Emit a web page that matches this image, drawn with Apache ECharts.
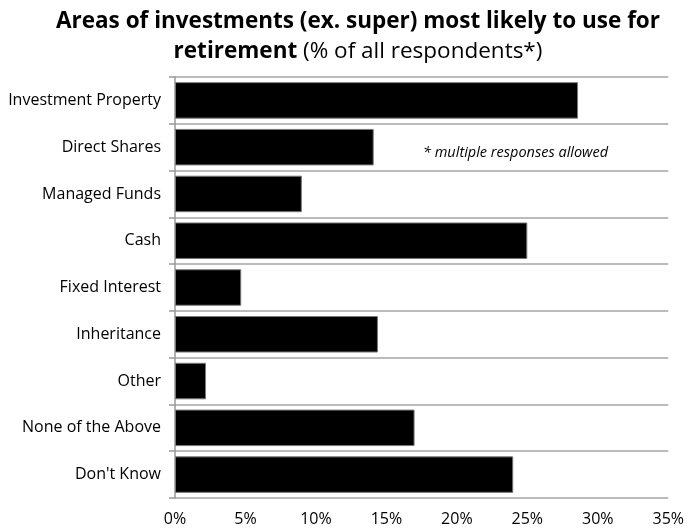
<!DOCTYPE html>
<html>
<head>
<meta charset="utf-8">
<style>
  html, body { margin: 0; padding: 0; background: #fff; }
  #chart { width: 687px; height: 528px; }
</style>
<script src="https://cdn.jsdelivr.net/npm/echarts@6/dist/echarts.min.js"></script>
</head>
<body>
<div id="chart"></div>
<script>
// Investment areas respondents expect to draw on in retirement (%)
const categories = [
  'Investment Property', 'Direct Shares', 'Managed Funds', 'Cash',
  'Fixed Interest', 'Inheritance', 'Other', 'None of the Above', "Don't Know"
];
const shares = [28.6, 14.1, 9.0, 25.0, 4.7, 14.4, 2.2, 17.0, 24.0];
const xTicks = { min: 0, max: 35, interval: 5 };

const FONT = '"Open Sans", "Noto Sans", sans-serif';
const chart = echarts.init(document.getElementById('chart'));

chart.setOption({
  animation: false,
  backgroundColor: '#fff',
  grid: { left: 175, right: 17, top: 77, bottom: 30, containLabel: false },
  xAxis: {
    type: 'value',
    min: xTicks.min,
    max: xTicks.max,
    interval: xTicks.interval,
    axisLine: { show: false },
    axisTick: { show: false },
    splitLine: { show: false },
    axisLabel: {
      formatter: '{value}%',
      fontFamily: FONT,
      fontSize: 16,
      color: '#000',
      margin: 13
    }
  },
  yAxis: {
    type: 'category',
    data: categories,
    inverse: true,
    axisLine: { show: true, lineStyle: { color: '#999', width: 1.5 } },
    axisTick: { show: true, length: 6, lineStyle: { color: '#999', width: 1.5 } },
    splitLine: { show: true, lineStyle: { color: '#bbb', width: 2 } },
    axisLabel: {
      fontFamily: FONT,
      fontSize: 16,
      color: '#000',
      margin: 14
    }
  },
  series: [{
    type: 'bar',
    data: shares,
    barCategoryGap: '22%',
    itemStyle: { color: '#000', borderColor: '#777', borderWidth: 1 }
  }],
  graphic: [{
    // two-line heading, centred over the plot
    type: 'text',
    x: 358,
    y: 7,
    style: {
      text: '{b|Areas of investments (ex. super) most likely to use for}\n{b|retirement}{r| (% of all respondents*)}',
      align: 'center',
      verticalAlign: 'top',
      rich: {
        b: { fontFamily: FONT, fontSize: 22.5, fontWeight: 'bold', fill: '#000', lineHeight: 30 },
        r: { fontFamily: FONT, fontSize: 22.5, fontWeight: 'normal', fill: '#000', lineHeight: 30 }
      }
    }
  }, {
    type: 'text',
    left: 423,
    top: 145,
    style: {
      text: '* multiple responses allowed',
      fontFamily: FONT,
      fontSize: 14.5,
      fontStyle: 'italic',
      fill: '#000'
    }
  }]
});
</script>
</body>
</html>
